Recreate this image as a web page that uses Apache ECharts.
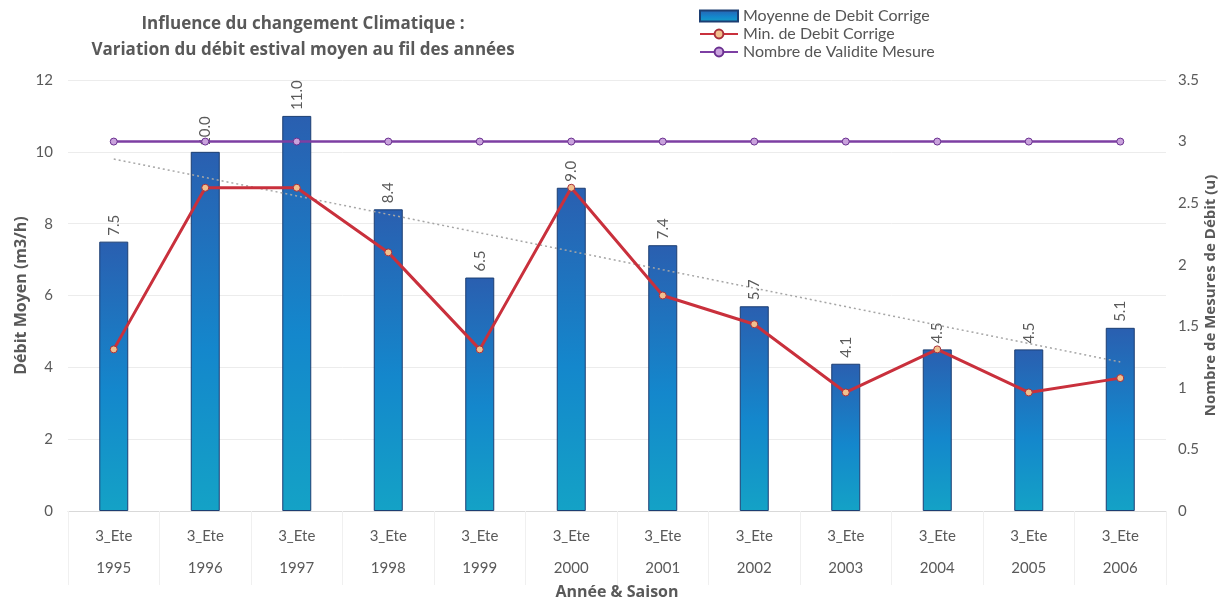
<!DOCTYPE html>
<html>
<head>
<meta charset="utf-8">
<script src="https://cdn.jsdelivr.net/npm/echarts@6/dist/echarts.min.js"></script>
<style>
  html, body { margin: 0; padding: 0; background: #ffffff; }
  #chart { width: 1224px; height: 600px; }
</style>
</head>
<body>
<div id="chart"></div>
<script>
// Summer flow per year
const years = ['1995', '1996', '1997', '1998', '1999', '2000', '2001', '2002', '2003', '2004', '2005', '2006'];
const seasons = ['3_Ete', '3_Ete', '3_Ete', '3_Ete', '3_Ete', '3_Ete', '3_Ete', '3_Ete', '3_Ete', '3_Ete', '3_Ete', '3_Ete'];
const meanFlow = [7.5, 10.0, 11.0, 8.4, 6.5, 9.0, 7.4, 5.7, 4.1, 4.5, 4.5, 5.1];
const minFlow = [4.5, 9.0, 9.0, 7.2, 4.5, 9.0, 6.0, 5.2, 3.3, 4.5, 3.3, 3.7];
const validCount = [3, 3, 3, 3, 3, 3, 3, 3, 3, 3, 3, 3];
const leftTicks = { min: 0, max: 12, interval: 2 };
const rightTicks = { min: 0, max: 3.5, interval: 0.5 };

// Linear least-squares trend of the mean flow
function linearTrend(values) {
  const n = values.length;
  const mx = (n - 1) / 2;
  const my = values.reduce((a, b) => a + b, 0) / n;
  let sxy = 0, sxx = 0;
  values.forEach((v, i) => { sxy += (i - mx) * (v - my); sxx += (i - mx) * (i - mx); });
  const slope = sxy / sxx;
  return values.map((_, i) => +(my + slope * (i - mx)).toFixed(3));
}
const trend = linearTrend(meanFlow);

const categories = years.map((y, i) => seasons[i] + '\n' + y);
const FONT = 'Lato, "Open Sans", sans-serif';
const BOLD_FONT = '"Open Sans", Lato, sans-serif';
const GREY = '#5a5a5a';

const barGradient = new echarts.graphic.LinearGradient(0, 0, 0, 1, [
  { offset: 0, color: '#2a5fb0' },
  { offset: 0.55, color: '#1487cc' },
  { offset: 1, color: '#14a2c6' }
]);

const chart = echarts.init(document.getElementById('chart'), null, { renderer: 'canvas' });
chart.setOption({
  backgroundColor: '#ffffff',
  animation: false,
  textStyle: { fontFamily: FONT },
  title: {
    text: 'Influence du changement Climatique :\nVariation du débit estival moyen au fil des années',
    left: 298,
    top: 6,
    textAlign: 'center',
    textStyle: { fontSize: 17, fontWeight: 'bold', color: '#595959', lineHeight: 26, fontFamily: BOLD_FONT }
  },
  legend: {
    orient: 'vertical',
    left: 694,
    top: 2,
    itemGap: 0,
    itemWidth: 38,
    itemHeight: 11,
    textStyle: { fontSize: 16, color: '#555555', fontFamily: FONT, lineHeight: 18 },
    data: [
      { name: 'Moyenne de Debit Corrige', icon: 'rect' },
      { name: 'Min. de Debit Corrige' },
      { name: 'Nombre de Validite Mesure' }
    ]
  },
  grid: { left: 68, right: 58, top: 80, bottom: 89, outerBoundsMode: 'none', containLabel: false },
  xAxis: {
    type: 'category',
    data: categories,
    axisLine: { show: true, lineStyle: { color: '#d9d9d9', width: 1 } },
    axisTick: { show: true, length: 74, lineStyle: { color: '#f0f0f0' } },
    axisLabel: { color: GREY, fontSize: 15, lineHeight: 32, margin: 9, fontFamily: FONT },
    name: 'Année & Saison',
    nameLocation: 'middle',
    nameGap: 73,
    nameMoveOverlap: false,
    nameTextStyle: { fontSize: 16, fontWeight: 'bold', color: '#595959', fontFamily: BOLD_FONT }
  },
  yAxis: [
    {
      type: 'value',
      min: leftTicks.min, max: leftTicks.max, interval: leftTicks.interval,
      axisLine: { show: false },
      axisTick: { show: false },
      splitLine: { lineStyle: { color: '#ececec' } },
      axisLabel: { color: GREY, fontSize: 15, margin: 15, fontFamily: FONT },
      name: 'Débit Moyen (m3/h)',
      nameLocation: 'middle',
      nameGap: 39,
      nameMoveOverlap: false,
      nameTextStyle: { fontSize: 16, fontWeight: 'bold', color: '#595959', fontFamily: BOLD_FONT }
    },
    {
      type: 'value',
      position: 'right',
      min: rightTicks.min, max: rightTicks.max, interval: rightTicks.interval,
      axisLine: { show: false },
      axisTick: { show: false },
      splitLine: { show: false },
      axisLabel: { color: GREY, fontSize: 15, margin: 12, fontFamily: FONT },
      name: 'Nombre de Mesures de Débit (u)',
      nameLocation: 'middle',
      nameGap: 37,
      nameMoveOverlap: false,
      nameTextStyle: { fontSize: 15, fontWeight: 'bold', color: '#595959', fontFamily: BOLD_FONT }
    }
  ],
  series: [
    {
      name: 'Moyenne de Debit Corrige',
      type: 'bar',
      yAxisIndex: 0,
      data: meanFlow,
      barWidth: 29,
      itemStyle: { color: barGradient, borderColor: '#1c3e72', borderWidth: 1 },
      label: {
        show: true,
        position: 'top',
        rotate: 90,
        align: 'left',
        verticalAlign: 'middle',
        distance: 6,
        color: GREY,
        fontSize: 15,
        fontFamily: FONT,
        formatter: p => p.value.toFixed(1)
      },
      z: 2
    },
    {
      name: 'Tendance',
      type: 'line',
      yAxisIndex: 0,
      data: trend,
      showSymbol: false,
      symbol: 'none',
      silent: true,
      lineStyle: { color: '#a6a6a6', width: 1.5, type: [2, 3] },
      z: 3
    },
    {
      name: 'Min. de Debit Corrige',
      type: 'line',
      yAxisIndex: 0,
      data: minFlow,
      symbol: 'circle',
      symbolSize: 7,
      lineStyle: { color: '#c9303c', width: 3 },
      itemStyle: { color: '#f1c08e', borderColor: '#a9303a', borderWidth: 1 },
      z: 4
    },
    {
      name: 'Nombre de Validite Mesure',
      type: 'line',
      yAxisIndex: 1,
      data: validCount,
      symbol: 'circle',
      symbolSize: 7,
      lineStyle: { color: '#7d3fa3', width: 2.5 },
      itemStyle: { color: '#c9a2dc', borderColor: '#6a3090', borderWidth: 1 },
      z: 5
    }
  ]
});
</script>
</body>
</html>
